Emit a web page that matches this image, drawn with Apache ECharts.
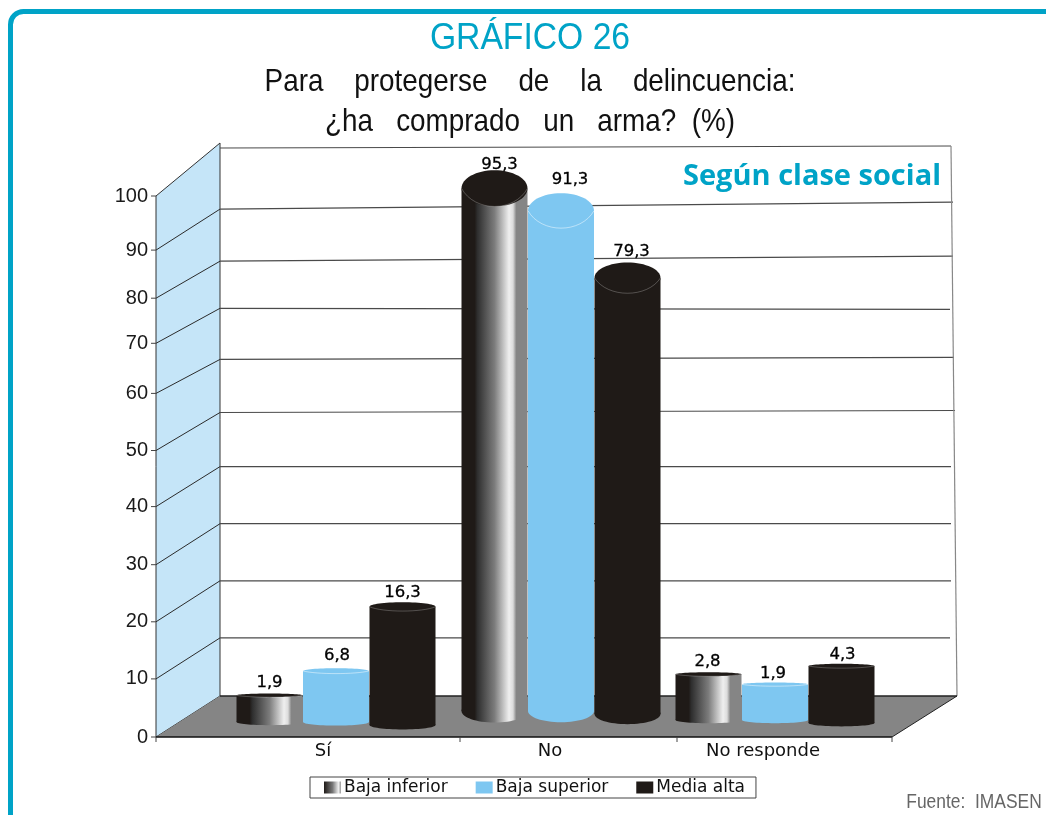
<!DOCTYPE html>
<html>
<head>
<meta charset="utf-8">
<style>html,body{margin:0;padding:0;background:#fff}#c{width:1046px;height:815px}</style>
<script src="https://cdn.jsdelivr.net/npm/echarts@6/dist/echarts.min.js"></script>
</head>
<body>
<div id="c"></div>
<script>
const categories = ['Sí', 'No', 'No responde'];
const yTicks = [0, 10, 20, 30, 40, 50, 60, 70, 80, 90, 100];
const bajaInferior = [1.9, 95.3, 2.8];
const bajaSuperior = [6.8, 91.3, 1.9];
const mediaAlta = [16.3, 79.3, 4.3];

/* ---- pseudo-3D layout (hand-drawn distortion of the original) ---- */
const TEAL = '#00A3C7', INK = '#1F1A17', BLUE = '#7EC7F1', FLOOR = '#858585', WALL = '#C5E5F8';
const X_FRONT_L = 156, X_FRONT_R = 892, X_BACK_L = 220, Y_FLOOR_BACK = 696;
const frontNudge = [0, 4, 7, 10, 14, 16, 19, 15, 6, 0, 0];          // px the drawn tick sits above the linear position
const backLeftRise = [41, 41, 41, 41, 40, 38, 34, 35, 37, 41, 48];  // wall rise, front tick -> back wall
const backRightRise = [41, 41, 41, 41, 40, 40, 36, 34, 42, 48, 50];
const backRightX = [957, 950, 951, 951, 951, 955, 954, 950, 953, 953, 951];
const catShiftX = [10, 15, 9];
const catRise = [19, 0, 32];
const catFootRise = [0, 11, 2];
const topNudge = [[3, 0, 0], [6, 0, 5], [-5, 0, 0]];                // per series, per category
const labelNudge = [[[-2, 0], [3, 6], [-3, 0]], [[-1, -2], [7, -3], [-4, 2]], [[-2, 1], [2, 0], [-1, 2]]];
const footNudge = [0, 0, 3];
const barW = 66, pitch = 66.5;

function renderWalls(params, api) {
  const kids = [];
  const yAt = yTicks.map((v, i) => api.coord([0, v])[1] - frontNudge[i]);
  const y0 = yAt[0], yTop = yAt[10];
  const backTop = yTop - backLeftRise[10];
  kids.push({ type: 'polygon', shape: { points: [[X_BACK_L, backTop], [backRightX[10], backTop - 2], [backRightX[0], Y_FLOOR_BACK], [X_BACK_L, Y_FLOOR_BACK]] }, style: { fill: '#fff' } });
  kids.push({ type: 'polygon', shape: { points: [[X_FRONT_L, yTop], [X_BACK_L, backTop - 5], [X_BACK_L, Y_FLOOR_BACK], [X_FRONT_L, y0]] }, style: { fill: WALL, stroke: '#333', lineWidth: 1 } });
  kids.push({ type: 'polygon', shape: { points: [[X_FRONT_L, y0], [X_BACK_L, Y_FLOOR_BACK], [backRightX[0], Y_FLOOR_BACK], [X_FRONT_R, y0]] }, style: { fill: FLOOR } });
  yTicks.forEach((v, i) => {
    const yb = yAt[i] - backLeftRise[i], yr = yAt[i] - backRightRise[i];
    if (i > 0) kids.push({ type: 'line', shape: { x1: X_BACK_L, y1: yb, x2: backRightX[i], y2: yr }, style: { stroke: '#4a4a4a', lineWidth: 1.2 } });
    if (i > 0 && i < 10) kids.push({ type: 'line', shape: { x1: X_FRONT_L, y1: yAt[i], x2: X_BACK_L, y2: yb }, style: { stroke: '#2b2b2b', lineWidth: 1 } });
    kids.push({ type: 'line', shape: { x1: X_FRONT_L - 5, y1: yAt[i], x2: X_FRONT_L, y2: yAt[i] }, style: { stroke: '#444', lineWidth: 1 } });
  });
  kids.push({ type: 'line', shape: { x1: backRightX[10], y1: backTop - 2, x2: backRightX[0], y2: Y_FLOOR_BACK }, style: { stroke: '#888', lineWidth: 1.2 } });
  kids.push({ type: 'line', shape: { x1: X_BACK_L, y1: Y_FLOOR_BACK, x2: backRightX[0], y2: Y_FLOOR_BACK }, style: { stroke: '#222', lineWidth: 1.5 } });
  kids.push({ type: 'line', shape: { x1: backRightX[0], y1: Y_FLOOR_BACK, x2: X_FRONT_R, y2: y0 }, style: { stroke: '#222', lineWidth: 1 } });
  kids.push({ type: 'line', shape: { x1: X_FRONT_L, y1: y0, x2: X_FRONT_R, y2: y0 }, style: { stroke: '#111', lineWidth: 1.5 } });
  [X_FRONT_L, 460, 677, X_FRONT_R].forEach(x => kids.push({ type: 'line', shape: { x1: x, y1: y0, x2: x, y2: y0 + 5 }, style: { stroke: '#444', lineWidth: 1 } }));
  return { type: 'group', children: kids };
}

function makeCylinder(seriesPos, fill, topFill, rimColor) {
  return function (params, api) {
    const cat = api.value(0), val = api.value(1);
    const p = api.coord([cat, val]), z = api.coord([cat, 0]);
    const cx = p[0] + catShiftX[cat] + (seriesPos - 1) * pitch;
    const topY = p[1] - catRise[cat] + topNudge[seriesPos][cat];
    const footY = z[1] - catFootRise[cat] + footNudge[seriesPos];
    const rx = barW / 2;
    const ryTop = 1.5 + 0.175 * val, ryFoot = 3 + 0.09 * val;
    const ln = labelNudge[seriesPos][cat];
    return {
      type: 'group',
      children: [
        { type: 'ellipse', shape: { cx, cy: footY, rx, ry: ryFoot }, style: { fill: fill } },
        { type: 'rect', shape: { x: cx - rx, y: topY, width: barW, height: footY - topY }, style: { fill: fill } },
        { type: 'ellipse', shape: { cx, cy: topY, rx, ry: ryTop }, style: { fill: topFill } },
        { type: 'bezierCurve', shape: { x1: cx - rx, y1: topY, x2: cx + rx, y2: topY, cpx1: cx - rx * 0.6, cpy1: topY + ryTop * 1.33, cpx2: cx + rx * 0.6, cpy2: topY + ryTop * 1.33 }, style: { fill: null, stroke: rimColor, lineWidth: 0.8 } },
        { type: 'text', z2: 50, style: { text: String(val).replace('.', ','), x: cx + 2 + ln[0], y: topY - ryTop - 11 + ln[1], align: 'center', verticalAlign: 'middle', fill: '#000', stroke: '#000', lineWidth: 0.3, font: '16.5px "DejaVu Sans"' } }
      ]
    };
  };
}

const gradFill = new echarts.graphic.LinearGradient(0, 0, 1, 0, [
  { offset: 0, color: INK }, { offset: 0.2, color: INK }, { offset: 0.24, color: '#2e2e2e' },
  { offset: 0.5, color: '#7c7c7c' }, { offset: 0.72, color: '#efefef' }, { offset: 0.78, color: '#dcdcdc' },
  { offset: 0.83, color: FLOOR }, { offset: 1, color: FLOOR }
]);
const legendGrad = new echarts.graphic.LinearGradient(0, 0, 1, 0, [
  { offset: 0, color: INK }, { offset: 0.5, color: '#777' }, { offset: 0.85, color: '#eee' }, { offset: 1, color: '#999' }
]);

const yRich = {};
yTicks.forEach((v, i) => {
  yRich['t' + v] = { fontFamily: 'Liberation Sans', fontSize: 20, color: '#1a1a1a', padding: [0, 0, 2 * frontNudge[i], 0] };
});
const xRich = {
  c0: { fontFamily: 'DejaVu Sans', fontSize: 18, color: '#111', padding: [0, 6, 0, 0] },
  c1: { fontFamily: 'DejaVu Sans', fontSize: 18, color: '#111', padding: [0, 0, 0, 8] },
  c2: { fontFamily: 'DejaVu Sans', fontSize: 18, color: '#111', padding: [0, 6, 0, 0] }
};

const toPairs = arr => arr.map((v, i) => [i, v]);
const narrowText = (text, x, y, size, scaleX, color) => ({
  type: 'text', z: 20, silent: true, x, y, scaleX,
  style: { text, align: 'center', verticalAlign: 'middle', fill: color, font: size + 'px "Liberation Sans"' }
});

const chart = echarts.init(document.getElementById('c'), null, { renderer: 'canvas' });
chart.setOption({
  animation: false,
  backgroundColor: '#fff',
  title: [
    { text: 'Según clase social', left: 678, top: 157, textStyle: { fontFamily: 'Open Sans', fontWeight: 'bold', fontSize: 29, color: TEAL } }
  ],
  graphic: [
    { type: 'rect', z: -10, silent: true, shape: { x: 10.5, y: 11.5, width: 1100, height: 900, r: 13 }, style: { fill: '#fff', stroke: TEAL, lineWidth: 5 } },
    narrowText('GRÁFICO 26', 530, 39, 37, 0.91, TEAL),
    narrowText('Para    protegerse    de    la    delincuencia:', 530, 82, 32, 0.87, '#111'),
    narrowText('¿ha   comprado   un   arma?  (%)', 530, 122, 32, 0.87, '#111'),
    narrowText('Fuente:  IMASEN', 974, 802, 20, 0.87, '#666')
  ],
  legend: {
    left: 310, top: 777, orient: 'horizontal',
    data: ['Baja inferior', 'Baja superior', 'Media alta'],
    icon: 'rect', itemWidth: 17, itemHeight: 12, itemGap: 28, padding: [2, 11, 2, 14],
    backgroundColor: '#fff', borderColor: '#444', borderWidth: 1,
    selectedMode: false,
    textStyle: { fontFamily: 'DejaVu Sans', fontSize: 17, color: '#111', padding: [4, 0, 0, -2] }
  },
  grid: [
    { left: 216, width: 660, top: 196, height: 541 },
    { left: 216, width: 660, top: 162, height: 560, show: false }
  ],
  xAxis: [
    { gridIndex: 0, type: 'category', data: categories,
      axisLine: { show: false }, axisTick: { show: false },
      axisLabel: { margin: 5, formatter: (v, i) => '{c' + i + '|' + v + '}', rich: xRich } },
    { gridIndex: 1, type: 'category', data: categories, show: false }
  ],
  yAxis: [
    { gridIndex: 0, type: 'value', min: 0, max: 100, interval: 10, offset: 60,
      splitLine: { show: false }, axisTick: { show: false },
      axisLine: { show: true, onZero: false, lineStyle: { color: '#555', width: 1 } },
      axisLabel: { margin: 8, formatter: v => '{t' + v + '|' + v + '}', rich: yRich } },
    { gridIndex: 1, type: 'value', min: 0, max: 100, interval: 10, show: false, splitLine: { show: false } }
  ],
  series: [
    { type: 'custom', name: 'frame', xAxisIndex: 0, yAxisIndex: 0, z: 1, silent: true, clip: false, data: [[0, 0]], renderItem: renderWalls },
    { type: 'custom', name: 'Baja inferior', xAxisIndex: 1, yAxisIndex: 1, z: 2, silent: true, clip: false, itemStyle: { color: legendGrad }, data: toPairs(bajaInferior), encode: { x: 0, y: 1 }, renderItem: makeCylinder(0, gradFill, INK, 'rgba(255,255,255,0.3)') },
    { type: 'custom', name: 'Baja superior', xAxisIndex: 1, yAxisIndex: 1, z: 3, silent: true, clip: false, itemStyle: { color: BLUE }, data: toPairs(bajaSuperior), encode: { x: 0, y: 1 }, renderItem: makeCylinder(1, BLUE, BLUE, 'rgba(255,255,255,0.6)') },
    { type: 'custom', name: 'Media alta', xAxisIndex: 1, yAxisIndex: 1, z: 4, silent: true, clip: false, itemStyle: { color: INK }, data: toPairs(mediaAlta), encode: { x: 0, y: 1 }, renderItem: makeCylinder(2, INK, INK, 'rgba(255,255,255,0.3)') }
  ]
});
</script>
</body>
</html>
